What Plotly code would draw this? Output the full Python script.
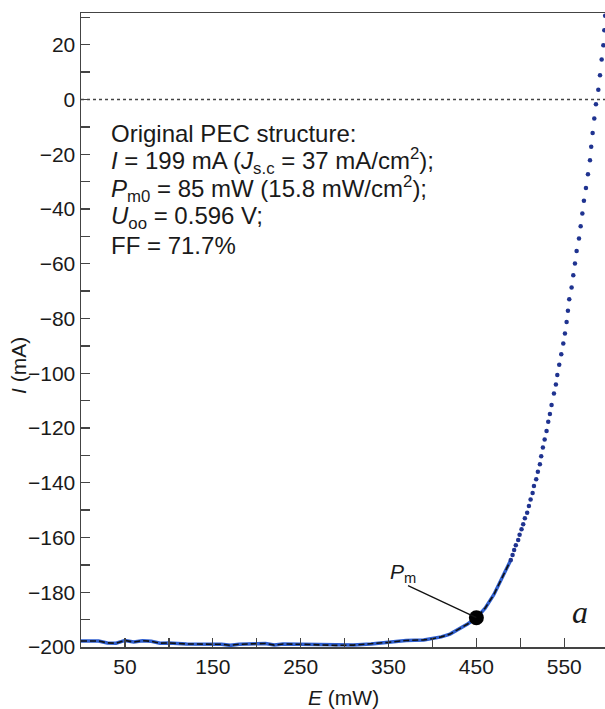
import plotly.graph_objects as go

# ---- data ----
solid_E = [0, 10, 20, 30, 40, 50, 60, 70, 80, 90, 100, 120, 140, 160, 170, 180, 200, 210, 220, 230,
           250, 270, 290, 310, 330, 350, 370, 390, 400, 410, 420, 430, 440, 450, 460, 470, 478, 485, 489.2]
solid_I = [-197.8, -197.9, -197.8, -198.5, -198.6, -197.6, -198.2, -197.7, -197.9, -198.6, -198.5,
           -198.9, -198.9, -199.0, -199.4, -199.0, -198.8, -198.7, -199.3, -198.9, -199.0, -199.2,
           -199.4, -199.3, -198.9, -198.3, -197.6, -197.4, -197.0, -196.3, -195.3, -193.6, -191.6,
           -189.4, -185.8, -180.8, -175.5, -171.0, -168.2]

dot_E = [489.2, 491.2, 493.0, 494.9, 497.6, 499.2, 501.4, 503.3, 505.2, 507.8, 509.8, 511.7, 514.0,
         515.5, 518.1, 520.0, 522.3, 523.8, 525.7, 527.7, 529.9, 531.8, 533.7, 535.6, 538.3, 540.5,
         542.1, 544.3, 546.6, 548.9, 550.8, 552.7, 554.2, 555.7, 558.4, 560.3, 562.2, 564.1, 566.8,
         568.7, 570.6, 572.4, 574.7, 577.0, 579.3, 580.7, 582.3, 584.2, 586.1, 588.8, 590.7, 592.6,
         594.5, 595.6, 596.6]
dot_I = [-168.2, -166.4, -164.6, -162.8, -160.9, -159.0, -157.0, -155.2, -153.0, -151.0, -148.5,
         -146.1, -143.7, -141.2, -138.7, -136.0, -133.2, -130.3, -127.1, -124.2, -121.1, -117.7,
         -114.9, -111.6, -107.4, -104.1, -100.6, -96.9, -93.1, -89.1, -85.5, -81.3, -77.2, -73.0,
         -68.7, -64.2, -59.9, -55.3, -50.8, -46.3, -41.6, -37.0, -32.3, -27.3, -22.2, -17.3, -12.2,
         -6.9, -1.7, 3.6, 8.9, 14.6, 19.8, 25.3, 30.6]

pm_E, pm_I = 450, -189.3

y_tickvals = list(range(-200, 31, 10))
y_ticktext = [("\u2212" + str(-v) if v < 0 else str(v)) if v % 20 == 0 else "" for v in y_tickvals]
x_tickvals = list(range(50, 551, 50))
x_ticktext = [str(v) if v % 100 == 50 else "" for v in x_tickvals]

info_lines = [
    "Original PEC structure:",
    "<i>I</i> = 199 mA (<i>J</i><sub>s.c</sub> = 37 mA/cm<sup>2</sup>);",
    "<i>P</i><sub>m0</sub> = 85 mW (15.8 mW/cm<sup>2</sup>);",
    "<i>U</i><sub>oo</sub> = 0.596 V;",
    "FF = 71.7%",
]
info_y = [-12.3, -22.4, -32.6, -43.1, -53.4]

FONT = "Liberation Sans, Arial, sans-serif"
TXT = "#1a1a1a"
AX = "#444444"

fig = go.Figure()
fig.add_trace(go.Scatter(x=solid_E, y=solid_I, mode="lines",
                         line=dict(color="#2f5fd0", width=3.5), hoverinfo="skip"))
fig.add_trace(go.Scatter(x=solid_E, y=solid_I, mode="lines",
                         line=dict(color="#111111", width=1.6, dash="6px,3px"), hoverinfo="skip"))
fig.add_trace(go.Scatter(x=dot_E, y=dot_I, mode="markers",
                         marker=dict(color="#1f3390", size=4.5), hoverinfo="skip"))
fig.add_trace(go.Scatter(x=[pm_E], y=[pm_I], mode="markers",
                         marker=dict(color="#000000", size=15), hoverinfo="skip"))

# zero line
fig.add_shape(type="line", xref="paper", x0=0, x1=1, yref="y", y0=0, y1=0,
              line=dict(color=AX, width=1.5, dash="dot"))
# Pm leader line
fig.add_shape(type="line", xref="x", yref="y", x0=372.2, y0=-177.6, x1=pm_E, y1=pm_I,
              line=dict(color="#111111", width=1.3))

for t, yv in zip(info_lines, info_y):
    fig.add_annotation(x=32.1, y=yv, xref="x", yref="y", text=t, showarrow=False,
                       xanchor="left", yanchor="middle",
                       font=dict(family=FONT, size=24, color=TXT))

fig.add_annotation(x=366.1, y=-173.0, xref="x", yref="y", text="<i>P</i><sub>m</sub>",
                   showarrow=False, xanchor="center", yanchor="middle",
                   font=dict(family=FONT, size=21, color=TXT))
fig.add_annotation(x=567.9, y=-187.1, xref="x", yref="y", text="<i>a</i>",
                   showarrow=False, xanchor="center", yanchor="middle",
                   font=dict(family="Liberation Serif, Times New Roman, serif", size=32, color=TXT))

# axis titles
fig.add_annotation(x=0.5, y=0, xref="paper", yref="paper", yshift=-50, text="<i>E</i> (mW)",
                   showarrow=False, xanchor="center", yanchor="middle",
                   font=dict(family=FONT, size=21, color=TXT))
fig.add_annotation(x=0, y=0.5, xref="paper", yref="paper", xshift=-63, yshift=-36,
                   text="<i>I</i> (mA)",
                   showarrow=False, xanchor="center", yanchor="middle", textangle=-90,
                   font=dict(family=FONT, size=21, color=TXT))

fig.update_layout(
    width=605, height=709,
    margin=dict(l=81, r=0, t=13, b=62, autoexpand=False),
    paper_bgcolor="white", plot_bgcolor="white",
    showlegend=False,
    font=dict(family=FONT, color=TXT),
)
fig.update_xaxes(range=[0, 596.4], tickmode="array", tickvals=x_tickvals, ticktext=x_ticktext,
                 ticks="inside", ticklen=9, tickwidth=1.3, tickcolor=AX, automargin=False,
                 showline=True, linecolor=AX, linewidth=1.5, mirror=True,
                 showgrid=False, zeroline=False,
                 tickfont=dict(family=FONT, size=21, color=TXT))
fig.update_yaxes(range=[-200, 31.6], tickmode="array", tickvals=y_tickvals, ticktext=y_ticktext,
                 ticks="inside", ticklen=9, tickwidth=1.3, tickcolor=AX, automargin=False,
                 showline=True, linecolor=AX, linewidth=1.5,
                 showgrid=False, zeroline=False,
                 tickfont=dict(family=FONT, size=21, color=TXT))

# remove the page's default 8px body margin so the 605x709 figure fills the window exactly
fig.write_html("out.html",
               config={"displayModeBar": False, "staticPlot": True},
               post_script="document.body.style.margin='0';document.body.style.overflow='hidden';")
